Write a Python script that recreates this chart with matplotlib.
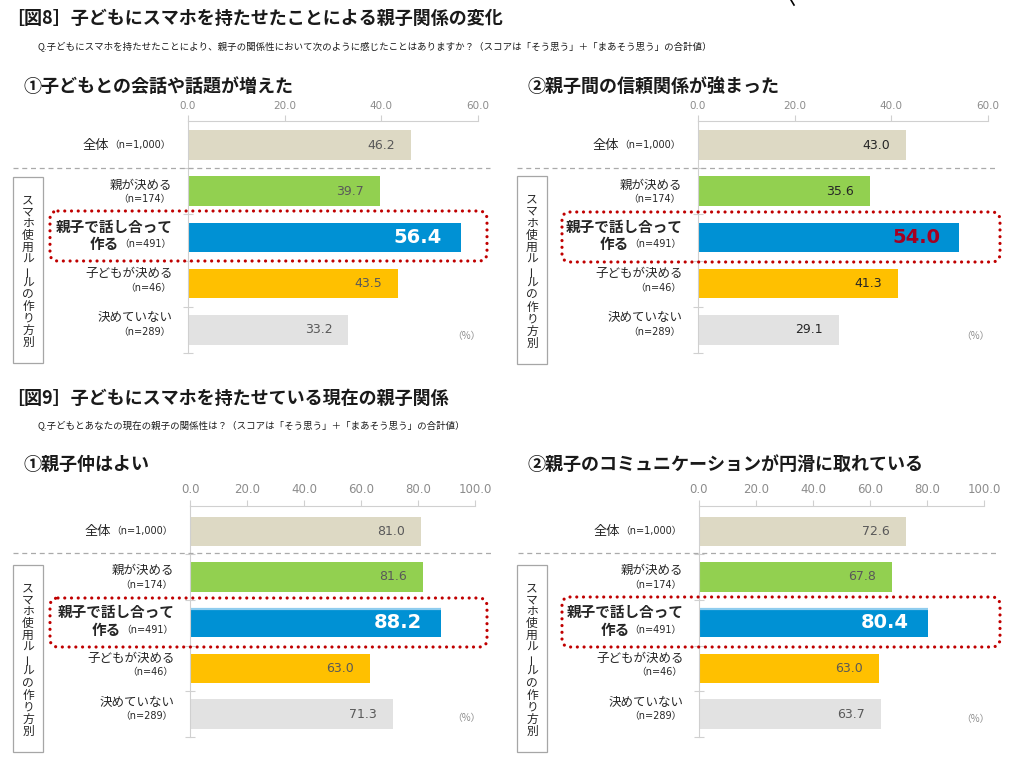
import matplotlib.pyplot as plt
from matplotlib.patches import Rectangle, FancyBboxPatch

plt.rcParams["font.family"] = ["Noto Sans CJK JP", "DejaVu Sans"]

W, H = 1009, 761

# ---- data ----
groups = ["全体", "親が決める", "親子で話し合って作る", "子どもが決める", "決めていない"]
sample_n = ["（n=1,000）", "（n=174）", "（n=491）", "（n=46）", "（n=289）"]
conv_increase = [46.2, 39.7, 56.4, 43.5, 33.2]
trust_stronger = [43.0, 35.6, 54.0, 41.3, 29.1]
good_relation = [81.0, 81.6, 88.2, 63.0, 71.3]
smooth_comm = [72.6, 67.8, 80.4, 63.0, 63.7]
ticks_fig8 = [0, 20, 40, 60]
ticks_fig9 = [0, 20, 40, 60, 80, 100]
bar_colors = ["#DDD9C4", "#92D050", "#0091D4", "#FFC000", "#E2E2E2"]
side_label = "スマホ使用ルールの作り方別"

title8 = "［図8］子どもにスマホを持たせたことによる親子関係の変化"
q8 = "Q.子どもにスマホを持たせたことにより、親子の関係性において次のように感じたことはありますか？（スコアは「そう思う」＋「まあそう思う」の合計値）"
title9 = "［図9］子どもにスマホを持たせている現在の親子関係"
q9 = "Q.子どもとあなたの現在の親子の関係性は？（スコアは「そう思う」＋「まあそう思う」の合計値）"
panel_titles = ["①子どもとの会話や話題が増えた", "②親子間の信頼関係が強まった",
                "①親子仲はよい", "②親子のコミュニケーションが円滑に取れている"]

PX = 0.72  # points per pixel at dpi 100
NUMFONT = ["DejaVu Sans", "Noto Sans CJK JP"]

fig = plt.figure(figsize=(W / 100, H / 100), dpi=100)


def panel(l, r, t, b, vals, ticks, ylim_top, tick_fs, val_color, hi_color, stripe=False):
    ax = fig.add_axes([l / W, 1 - b / H, (r - l) / W, (b - t) / H])
    ax.set_facecolor("none")
    ypos = list(range(len(vals)))
    ax.barh(ypos, vals, height=0.64, color=bar_colors, zorder=2)
    if stripe:
        # light edge on top of the highlighted bar
        ax.plot([0, vals[2]], [2 - 0.30, 2 - 0.30], color="#8FCDEF", lw=1.6, zorder=2.5,
                solid_capstyle="butt")
    ax.set_xlim(ticks[0], ticks[-1])
    ax.set_ylim(4.5, ylim_top)
    for s in ["right", "bottom"]:
        ax.spines[s].set_visible(False)
    for s in ["left", "top"]:
        ax.spines[s].set_color("#D0D0D0")
    ax.xaxis.tick_top()
    ax.set_xticks(ticks)
    ax.set_xticklabels([f"{v:.1f}" for v in ticks], family=NUMFONT)
    ax.tick_params(axis="x", direction="out", length=4, color="#D0D0D0",
                   labelsize=tick_fs, labelcolor="#8C8C8C", pad=3)
    ax.set_yticks([0.5, 1.5, 2.5, 3.5, 4.5])
    ax.set_yticklabels([])
    ax.tick_params(axis="y", direction="inout", length=7, color="#D0D0D0")

    # value labels
    for i, v in enumerate(vals):
        if i == 2:
            ax.annotate(f"{v:.1f}", xy=(v, i), xytext=(-19 * PX, 0),
                        textcoords="offset points", ha="right", va="center",
                        fontsize=14, fontweight="bold", color=hi_color,
                        family=NUMFONT, zorder=3)
        else:
            ax.annotate(f"{v:.1f}", xy=(v, i), xytext=(-16 * PX, 0),
                        textcoords="offset points", ha="right", va="center",
                        fontsize=9, color=val_color, family=NUMFONT, zorder=3)

    # category labels (right edge 17px left of the axis)
    dx = -17 * PX
    kw = dict(textcoords="offset points", ha="right", va="center",
              annotation_clip=False, color="#262626")
    n0 = ax.annotate(sample_n[0], xy=(0, 0), xytext=(dx, 0), fontsize=7,
                     family=NUMFONT, **kw)
    ax.annotate(groups[0], xy=(0, 0.5), xycoords=n0, fontsize=9.5,
                ha="right", va="center", color="#262626")
    offs = {1: (-6, 8), 3: (-10, 4), 4: (-12, 2)}
    for i, (d1, d2) in offs.items():
        ax.annotate(groups[i], xy=(0, i), xytext=(dx + 1, -d1 * PX),
                    fontsize=9, **kw)
        ax.annotate(sample_n[i], xy=(0, i), xytext=(dx, -d2 * PX),
                    fontsize=7, family=NUMFONT, **kw)
    ax.annotate(groups[2][:-2], xy=(0, 2), xytext=(dx + 1, 11 * PX),
                fontsize=10.5, fontweight="bold", **kw)
    n2 = ax.annotate(sample_n[2], xy=(0, 2), xytext=(dx, -7 * PX),
                     fontsize=7, family=NUMFONT, **kw)
    ax.annotate(groups[2][-2:], xy=(0, 0.5), xycoords=n2, fontsize=10.5,
                fontweight="bold", ha="right", va="center", color="#262626")
    return ax


panel(188, 478, 121, 353, conv_increase, ticks_fig8, -0.52, 7.5, "#595959", "white")
panel(698, 988, 121, 353, trust_stronger, ticks_fig8, -0.52, 7.5, "#262626", "#A50021")
panel(190, 475, 506, 737, good_relation, ticks_fig9, -0.55, 8.5, "#595959", "white", True)
panel(699, 984, 506, 737, smooth_comm, ticks_fig9, -0.55, 8.5, "#595959", "white", True)

# ---- overlay for titles and decorations (pixel coordinates) ----
ov = fig.add_axes([0, 0, 1, 1])
ov.set_xlim(0, W)
ov.set_ylim(H, 0)
ov.axis("off")

ov.text(6, 18, title8, fontsize=13, fontweight="bold", va="center", color="#1a1a1a")
ov.text(38, 46, q8, fontsize=6.8, va="center", color="#1a1a1a")
ov.text(6, 398, title9, fontsize=13, fontweight="bold", va="center", color="#1a1a1a")
ov.text(38, 426, q9, fontsize=6.8, va="center", color="#1a1a1a")
for (x, y), t in zip([(24, 86), (528, 86), (24, 464), (528, 464)], panel_titles):
    ov.text(x, y, t, fontsize=13, fontweight="bold", va="center", color="#1a1a1a")

# dashed separators, side boxes, highlight boxes, (%) marks
for x0, x1, y in [(13, 490, 168), (517, 996, 168), (13, 493, 553), (518, 998, 553)]:
    ov.plot([x0, x1], [y, y], color="#AAAAAA", lw=0.9, ls=(0, (4, 3)))

for x0, y0, y1 in [(13, 177, 363), (517, 176, 364), (13, 565, 752), (517, 565, 752)]:
    ov.add_patch(Rectangle((x0, y0), 30, y1 - y0, fill=False, ec="#A6A6A6", lw=0.9))
    step = (y1 - y0 - 44) / (len(side_label) - 1)
    for k, ch in enumerate(side_label):
        ov.text(x0 + 15, y0 + 23 + k * step, ch, fontsize=8.5, ha="center",
                va="center", color="#262626", rotation=90 if ch == "ー" else 0)

for x0, x1, y0, y1 in [(50, 487, 211, 261), (562, 1000, 212, 262),
                       (50, 487, 598, 647), (562, 1000, 597, 647)]:
    ov.add_patch(FancyBboxPatch((x0, y0), x1 - x0, y1 - y0,
                                boxstyle="round,pad=0,rounding_size=8",
                                fill=False, ec="#C00000", lw=2.3,
                                ls=(0, (0.01, 2.1)), capstyle="round"))

for x, y in [(466, 336), (975, 336), (466, 718), (975, 719)]:
    ov.text(x, y, "（%）", fontsize=7, ha="center", va="center", color="#8C8C8C")

ov.plot([791, 794], [0, 5], color="black", lw=1.2)

fig.savefig("out.png", dpi=100)
